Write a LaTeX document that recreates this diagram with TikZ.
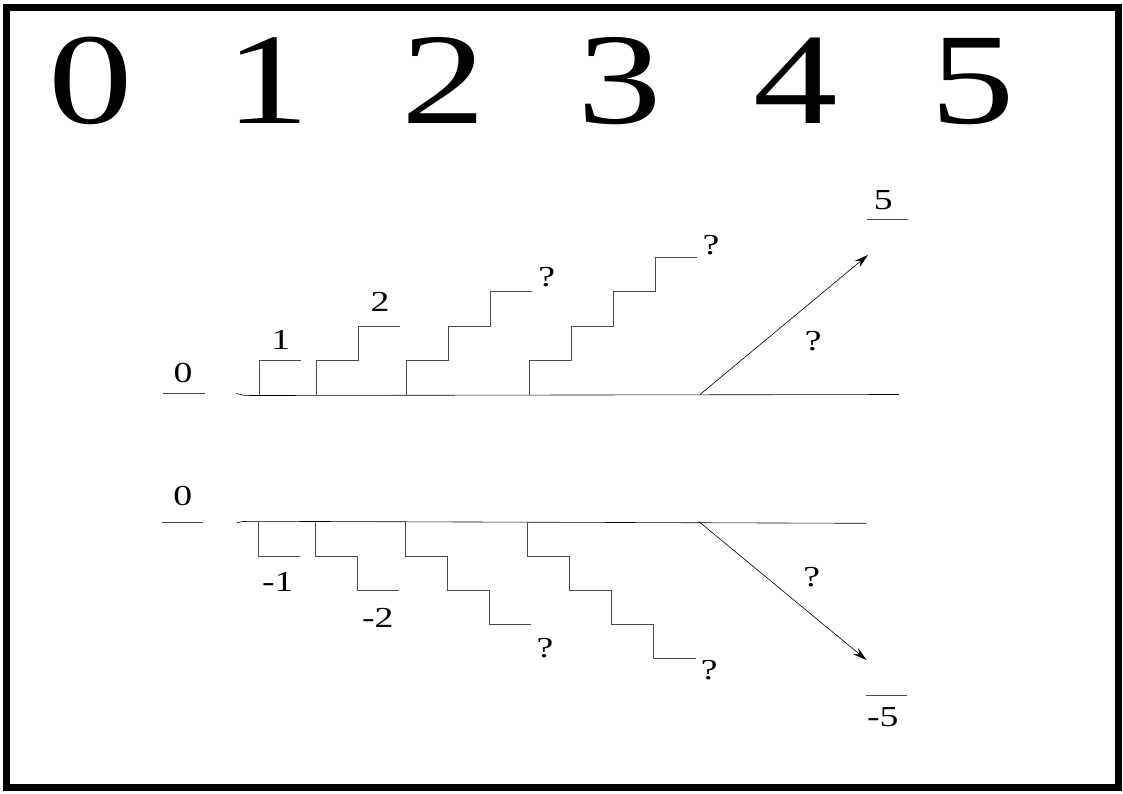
\documentclass[tikz,border=0pt]{standalone}
\usepackage{fontspec}
\setmainfont{Liberation Serif}
\usetikzlibrary{arrows.meta}

\newcommand{\widetxt}[1]{\scalebox{1.3}[1]{#1}}

\begin{document}
\begin{tikzpicture}[x=1pt,y=-1pt,>={Stealth[length=14pt,width=8pt]},semithick]
        \tikzset{big/.style={anchor=base,inner sep=0pt,font=\fontsize{130}{130}\selectfont},
                 lbl/.style={inner sep=0pt,font=\fontsize{29}{29}\selectfont},
                 stair/.style={black!70,line width=1pt}}

        \useasboundingbox (0,0) rectangle (1123,794);
        \draw[line width=7pt] (6.5,7.5) rectangle (1118.5,787);

        % big digits on top
        \foreach \d in {0,...,5}
            \node[big] (d\d) at (91+176.3*\d,124) {\widetxt{\d}};

        % upper line, stairs going up
        \draw (236,393.5) .. controls (242,395.5) .. (262,395.5) -- (899,394.5);
        \foreach \sx/\n in {259/1,316/2,406/3,529/4}
            \draw[stair] (\sx,395) \foreach \i in {1,...,\n} { -- ++(0,-34.5) -- ++(42,0) };
        \draw[stair] (163,393.7) -- (205,393.7);
        \draw[stair] (866.7,220) -- (908.3,220);

        \node[lbl] (u0) at (183,373)   {\widetxt{0}};
        \node[lbl] (u1) at (280.7,340) {\widetxt{1}};
        \node[lbl] (u2) at (380,301.7) {\widetxt{2}};
        \node[lbl] (u3) at (546.7,276.7) {\widetxt{?}};
        \node[lbl] (u4) at (711,245)   {\widetxt{?}};
        \node[lbl] (uq) at (813.3,341) {\widetxt{?}};
        \node[lbl] (u5) at (883.3,200) {\widetxt{5}};

        \coordinate (ua) at (700,394.5);
        \coordinate (ub) at (868,255);
        \draw[->] (ua) -- (ub);

        % lower line, stairs going down
        \draw (236.5,523) .. controls (240,521.5) .. (255,521.3) -- (866.5,523.3);
        \foreach \sx/\n in {258/1,315/2,405/3,527.5/4}
            \draw[stair] (\sx,522) \foreach \i in {1,...,\n} { -- ++(0,34) -- ++(42,0) };
        \draw[stair] (162.3,522.3) -- (203.3,522.3);
        \draw[stair] (865.7,695.7) -- (906.7,695.7);

        \node[lbl] (l0) at (182.7,496)   {\widetxt{0}};
        \node[lbl] (l1) at (277.7,581.7) {\widetxt{-1}};
        \node[lbl] (l2) at (377.7,618.3) {\widetxt{-2}};
        \node[lbl] (l3) at (545,648.3)   {\widetxt{?}};
        \node[lbl] (l4) at (709.3,670)   {\widetxt{?}};
        \node[lbl] (lq) at (811.7,576.7) {\widetxt{?}};
        \node[lbl] (l5) at (882.7,716.7) {\widetxt{-5}};

        \coordinate (la) at (699,521.7);
        \coordinate (lb) at (866.5,660);
        \draw[->] (la) -- (lb);
\end{tikzpicture}
\end{document}
